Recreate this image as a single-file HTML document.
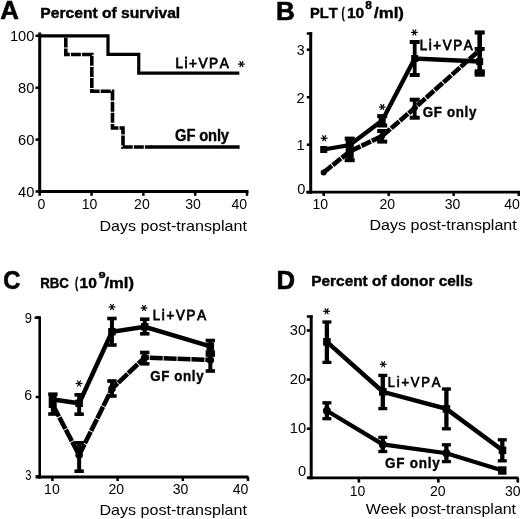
<!DOCTYPE html>
<html><head><meta charset="utf-8"><style>
html,body{margin:0;padding:0;background:#fff;width:520px;height:519px;overflow:hidden}
svg{display:block;will-change:transform;font-family:"Liberation Sans",sans-serif;font-kerning:none}
</style></head><body>
<svg width="520" height="519" viewBox="0 0 520 519" stroke="#000" fill="#000">
<g stroke="none">
</g>
<text transform="translate(0.26 19.40) scale(0.9842 1)" font-size="26.20" font-weight="bold" stroke="#000" stroke-width="0.60">A</text>
<text transform="translate(40.35 17.60) scale(1.0427 1)" font-size="15.00" font-weight="bold" stroke="#000" stroke-width="0.40">Percent of survival</text>
<line x1="39.70" y1="32.50" x2="39.70" y2="193.00" stroke-width="3.00" stroke-linecap="butt"/>
<line x1="38.20" y1="191.50" x2="248.50" y2="191.50" stroke-width="3.00" stroke-linecap="butt"/>
<line x1="35.50" y1="35.80" x2="39.70" y2="35.80" stroke-width="2.50" stroke-linecap="butt"/>
<line x1="35.50" y1="87.70" x2="39.70" y2="87.70" stroke-width="2.50" stroke-linecap="butt"/>
<line x1="35.50" y1="139.60" x2="39.70" y2="139.60" stroke-width="2.50" stroke-linecap="butt"/>
<line x1="35.50" y1="191.50" x2="39.70" y2="191.50" stroke-width="2.50" stroke-linecap="butt"/>
<line x1="39.70" y1="191.50" x2="39.70" y2="195.80" stroke-width="2.50" stroke-linecap="butt"/>
<line x1="91.53" y1="191.50" x2="91.53" y2="195.80" stroke-width="2.50" stroke-linecap="butt"/>
<line x1="143.35" y1="191.50" x2="143.35" y2="195.80" stroke-width="2.50" stroke-linecap="butt"/>
<line x1="195.18" y1="191.50" x2="195.18" y2="195.80" stroke-width="2.50" stroke-linecap="butt"/>
<line x1="247.00" y1="191.50" x2="247.00" y2="195.80" stroke-width="2.50" stroke-linecap="butt"/>
<text transform="translate(9.88 41.30) scale(1.0124 1)" font-size="14.50" stroke="none">100</text>
<text transform="translate(18.05 93.20) scale(1.0124 1)" font-size="14.50" stroke="none">80</text>
<text transform="translate(18.05 145.10) scale(1.0124 1)" font-size="14.50" stroke="none">60</text>
<text transform="translate(18.05 197.00) scale(1.0124 1)" font-size="14.50" stroke="none">40</text>
<text transform="translate(37.59 208.80) scale(0.9700 1)" font-size="14.50" stroke="none">0</text>
<text transform="translate(81.67 208.80) scale(0.9700 1)" font-size="14.50" stroke="none">10</text>
<text transform="translate(134.10 208.80) scale(0.9700 1)" font-size="14.50" stroke="none">20</text>
<text transform="translate(185.18 208.80) scale(0.9700 1)" font-size="14.50" stroke="none">30</text>
<text transform="translate(231.39 208.80) scale(0.9700 1)" font-size="14.50" stroke="none">40</text>
<text transform="translate(99.48 231.30) scale(1.1095 1)" font-size="14.50" stroke="none">Days post-transplant</text>
<polyline points="65.80,37.40 65.80,54.50 91.80,54.50 91.80,91.30 112.50,91.30 112.50,128.00 123.00,128.00 123.00,147.00 151.50,147.00" fill="none" stroke-width="3.60" stroke-linejoin="miter" stroke-dasharray="10 1.1"/>
<line x1="150.80" y1="147.00" x2="239.60" y2="147.00" stroke-width="3.60" stroke-linecap="butt"/>
<polyline points="39.70,35.80 108.00,35.80 108.00,54.40 138.75,54.40 138.75,73.10 239.30,73.10" fill="none" stroke-width="3.20" stroke-linejoin="miter"/>
<text transform="translate(175.48 67.75) scale(0.8800 1)" font-size="15.50" stroke="#000" stroke-width="0.80" letter-spacing="1.698">Li+VPA</text>
<line x1="238.00" y1="64.10" x2="244.80" y2="64.10" stroke-width="1.20" stroke-linecap="butt"/>
<line x1="239.70" y1="61.16" x2="243.10" y2="67.04" stroke-width="1.20" stroke-linecap="butt"/>
<line x1="243.10" y1="61.16" x2="239.70" y2="67.04" stroke-width="1.20" stroke-linecap="butt"/>
<text transform="translate(175.10 141.15) scale(0.9200 1)" font-size="16.00" font-weight="bold" stroke="#000" stroke-width="0.40" letter-spacing="-0.146">GF only</text>
<text transform="translate(276.06 19.50) scale(0.9951 1)" font-size="26.20" font-weight="bold" stroke="#000" stroke-width="0.60">B</text>
<text transform="translate(310.02 17.80) scale(0.9924 1)" font-size="14.80" font-weight="bold" stroke="#000" stroke-width="0.40">PLT</text>
<text transform="translate(341.62 17.80) scale(0.6464 1)" font-size="14.80" font-weight="bold" stroke="#000" stroke-width="0.40">(</text>
<text transform="translate(346.92 18.00) scale(1.0521 1)" font-size="14.80" font-weight="bold" stroke="#000" stroke-width="0.40">10</text>
<text transform="translate(365.22 8.50) scale(1.0577 1)" font-size="11.30" font-weight="bold" stroke="#000" stroke-width="0.40">8</text>
<text transform="translate(374.04 17.80) scale(1.1364 1)" font-size="14.80" font-weight="bold" stroke="#000" stroke-width="0.40">/ml)</text>
<line x1="310.70" y1="32.30" x2="310.70" y2="193.70" stroke-width="3.00" stroke-linecap="butt"/>
<line x1="306.80" y1="33.50" x2="312.20" y2="33.50" stroke-width="2.50" stroke-linecap="butt"/>
<line x1="306.30" y1="192.20" x2="520.00" y2="192.20" stroke-width="2.70" stroke-linecap="butt"/>
<line x1="306.80" y1="192.20" x2="310.70" y2="192.20" stroke-width="2.50" stroke-linecap="butt"/>
<line x1="306.80" y1="144.70" x2="310.70" y2="144.70" stroke-width="2.50" stroke-linecap="butt"/>
<line x1="306.80" y1="97.20" x2="310.70" y2="97.20" stroke-width="2.50" stroke-linecap="butt"/>
<line x1="306.80" y1="49.70" x2="310.70" y2="49.70" stroke-width="2.50" stroke-linecap="butt"/>
<line x1="323.70" y1="192.20" x2="323.70" y2="196.00" stroke-width="2.50" stroke-linecap="butt"/>
<line x1="388.70" y1="192.20" x2="388.70" y2="196.00" stroke-width="2.50" stroke-linecap="butt"/>
<line x1="453.70" y1="192.20" x2="453.70" y2="196.00" stroke-width="2.50" stroke-linecap="butt"/>
<line x1="518.70" y1="192.20" x2="518.70" y2="196.00" stroke-width="2.50" stroke-linecap="butt"/>
<text transform="translate(296.71 55.00) scale(0.9819 1)" font-size="14.50" stroke="none">3</text>
<text transform="translate(296.55 150.00) scale(1.0124 1)" font-size="14.50" stroke="none">1</text>
<text transform="translate(296.57 102.50) scale(1.0124 1)" font-size="14.50" stroke="none">2</text>
<text transform="translate(297.31 194.00) scale(1.0124 1)" font-size="14.50" stroke="none">0</text>
<text transform="translate(312.52 208.80) scale(0.9700 1)" font-size="14.50" stroke="none">10</text>
<text transform="translate(379.40 208.80) scale(0.9700 1)" font-size="14.50" stroke="none">20</text>
<text transform="translate(444.68 208.80) scale(0.9700 1)" font-size="14.50" stroke="none">30</text>
<text transform="translate(504.29 208.80) scale(0.9700 1)" font-size="14.50" stroke="none">40</text>
<text transform="translate(369.48 229.80) scale(1.1080 1)" font-size="14.50" stroke="none">Days post-transplant</text>
<polyline points="323.70,149.50 349.70,145.00 382.20,120.50 414.70,58.50 479.70,61.50" fill="none" stroke-width="4.30" stroke-linejoin="miter"/>
<polyline points="323.70,172.40 349.70,151.50 382.20,136.00 414.70,108.00 479.70,50.00" fill="none" stroke-width="4.60" stroke-linejoin="miter" stroke-dasharray="10.5 1.1"/>
<line x1="349.70" y1="138.60" x2="349.70" y2="160.20" stroke-width="3.60" stroke-linecap="butt"/>
<rect x="344.70" y="136.60" width="10.00" height="4.00" stroke="none"/>
<rect x="344.70" y="158.20" width="10.00" height="4.00" stroke="none"/>
<rect x="345.70" y="140.00" width="8.00" height="18.00" stroke="none"/>
<line x1="382.20" y1="116.10" x2="382.20" y2="125.50" stroke-width="3.60" stroke-linecap="butt"/>
<rect x="377.20" y="114.10" width="10.00" height="4.00" stroke="none"/>
<rect x="377.20" y="123.50" width="10.00" height="4.00" stroke="none"/>
<line x1="382.20" y1="131.00" x2="382.20" y2="141.60" stroke-width="3.60" stroke-linecap="butt"/>
<rect x="377.20" y="129.00" width="10.00" height="4.00" stroke="none"/>
<rect x="377.20" y="139.60" width="10.00" height="4.00" stroke="none"/>
<line x1="414.70" y1="42.00" x2="414.70" y2="75.00" stroke-width="3.80" stroke-linecap="butt"/>
<rect x="409.70" y="40.00" width="10.00" height="4.00" stroke="none"/>
<rect x="409.70" y="73.00" width="10.00" height="4.00" stroke="none"/>
<line x1="414.70" y1="99.70" x2="414.70" y2="117.70" stroke-width="3.80" stroke-linecap="butt"/>
<rect x="409.70" y="97.70" width="10.00" height="4.00" stroke="none"/>
<rect x="409.70" y="115.70" width="10.00" height="4.00" stroke="none"/>
<line x1="479.70" y1="32.50" x2="479.70" y2="73.00" stroke-width="4.60" stroke-linecap="butt"/>
<rect x="474.70" y="30.40" width="10.00" height="4.20" stroke="none"/>
<rect x="474.70" y="70.90" width="10.00" height="4.20" stroke="none"/>
<rect x="474.70" y="47.00" width="10.00" height="3.80" stroke="none"/>
<rect x="474.70" y="69.30" width="10.00" height="7.40" stroke="none"/>
<rect x="320.20" y="146.00" width="7.00" height="7.00" stroke="none"/>
<rect x="346.20" y="141.50" width="7.00" height="7.00" stroke="none"/>
<rect x="378.70" y="117.00" width="7.00" height="7.00" stroke="none"/>
<rect x="411.20" y="55.00" width="7.00" height="7.00" stroke="none"/>
<rect x="476.20" y="58.00" width="7.00" height="7.00" stroke="none"/>
<circle cx="323.70" cy="172.40" r="3.00" stroke="none"/>
<circle cx="349.70" cy="151.50" r="3.00" stroke="none"/>
<circle cx="382.20" cy="136.00" r="3.00" stroke="none"/>
<circle cx="414.70" cy="108.00" r="3.00" stroke="none"/>
<circle cx="479.70" cy="50.00" r="3.00" stroke="none"/>
<line x1="320.80" y1="138.20" x2="327.60" y2="138.20" stroke-width="1.20" stroke-linecap="butt"/>
<line x1="322.50" y1="135.26" x2="325.90" y2="141.14" stroke-width="1.20" stroke-linecap="butt"/>
<line x1="325.90" y1="135.26" x2="322.50" y2="141.14" stroke-width="1.20" stroke-linecap="butt"/>
<line x1="378.90" y1="107.10" x2="385.70" y2="107.10" stroke-width="1.20" stroke-linecap="butt"/>
<line x1="380.60" y1="104.16" x2="384.00" y2="110.04" stroke-width="1.20" stroke-linecap="butt"/>
<line x1="384.00" y1="104.16" x2="380.60" y2="110.04" stroke-width="1.20" stroke-linecap="butt"/>
<line x1="411.00" y1="32.40" x2="417.80" y2="32.40" stroke-width="1.20" stroke-linecap="butt"/>
<line x1="412.70" y1="29.46" x2="416.10" y2="35.34" stroke-width="1.20" stroke-linecap="butt"/>
<line x1="416.10" y1="29.46" x2="412.70" y2="35.34" stroke-width="1.20" stroke-linecap="butt"/>
<text transform="translate(419.71 49.80) scale(0.9200 1)" font-size="14.50" stroke="#000" stroke-width="0.80" letter-spacing="1.773">Li+VPA</text>
<text transform="translate(422.75 116.90) scale(0.9200 1)" font-size="14.50" font-weight="bold" stroke="#000" stroke-width="0.40" letter-spacing="0.718">GF only</text>
<text transform="translate(3.32 289.00) scale(0.9107 1)" font-size="26.20" font-weight="bold" stroke="#000" stroke-width="0.60">C</text>
<text transform="translate(40.21 287.60) scale(0.8967 1)" font-size="14.80" font-weight="bold" stroke="#000" stroke-width="0.40">RBC</text>
<text transform="translate(75.12 287.60) scale(0.6464 1)" font-size="14.80" font-weight="bold" stroke="#000" stroke-width="0.40">(</text>
<text transform="translate(79.62 287.90) scale(1.0521 1)" font-size="14.80" font-weight="bold" stroke="#000" stroke-width="0.40">10</text>
<text transform="translate(98.56 277.60) scale(1.3061 1)" font-size="9.80" font-weight="bold" stroke="#000" stroke-width="0.40">9</text>
<text transform="translate(104.44 287.60) scale(1.1207 1)" font-size="14.80" font-weight="bold" stroke="#000" stroke-width="0.40">/ml)</text>
<line x1="39.70" y1="316.50" x2="39.70" y2="478.60" stroke-width="2.60" stroke-linecap="butt"/>
<line x1="34.60" y1="317.70" x2="41.00" y2="317.70" stroke-width="2.30" stroke-linecap="butt"/>
<line x1="35.70" y1="477.10" x2="248.50" y2="477.10" stroke-width="3.00" stroke-linecap="butt"/>
<line x1="35.70" y1="476.50" x2="39.70" y2="476.50" stroke-width="2.50" stroke-linecap="butt"/>
<line x1="35.70" y1="397.00" x2="39.70" y2="397.00" stroke-width="2.50" stroke-linecap="butt"/>
<line x1="35.70" y1="317.50" x2="39.70" y2="317.50" stroke-width="2.50" stroke-linecap="butt"/>
<line x1="52.40" y1="477.10" x2="52.40" y2="481.00" stroke-width="2.50" stroke-linecap="butt"/>
<line x1="117.60" y1="477.10" x2="117.60" y2="481.00" stroke-width="2.50" stroke-linecap="butt"/>
<line x1="182.80" y1="477.10" x2="182.80" y2="481.00" stroke-width="2.50" stroke-linecap="butt"/>
<line x1="248.00" y1="477.10" x2="248.00" y2="481.00" stroke-width="2.50" stroke-linecap="butt"/>
<text transform="translate(24.79 323.00) scale(0.9084 1)" font-size="14.30" stroke="none">9</text>
<text transform="translate(24.28 400.30) scale(0.9851 1)" font-size="14.30" stroke="none">6</text>
<text transform="translate(25.37 479.60) scale(0.7817 1)" font-size="14.30" stroke="none">3</text>
<text transform="translate(44.07 494.20) scale(0.9700 1)" font-size="14.50" stroke="none">10</text>
<text transform="translate(108.50 494.20) scale(0.9700 1)" font-size="14.50" stroke="none">20</text>
<text transform="translate(172.68 494.20) scale(0.9700 1)" font-size="14.50" stroke="none">30</text>
<text transform="translate(232.79 494.20) scale(0.9700 1)" font-size="14.50" stroke="none">40</text>
<text transform="translate(99.48 515.20) scale(1.1095 1)" font-size="14.50" stroke="none">Days post-transplant</text>
<polyline points="52.90,405.00 79.14,455.00 111.94,388.80 144.74,357.50 210.34,360.00" fill="none" stroke-width="4.60" stroke-linejoin="miter" stroke-dasharray="13 0.9"/>
<polyline points="52.90,399.60 79.14,403.30 111.94,331.70 144.74,326.80 210.34,346.30" fill="none" stroke-width="4.50" stroke-linejoin="miter"/>
<line x1="52.90" y1="394.20" x2="52.90" y2="414.00" stroke-width="4.00" stroke-linecap="butt"/>
<rect x="48.20" y="392.40" width="9.40" height="3.60" stroke="none"/>
<rect x="48.20" y="412.20" width="9.40" height="3.60" stroke="none"/>
<line x1="79.14" y1="394.80" x2="79.14" y2="414.20" stroke-width="4.00" stroke-linecap="butt"/>
<rect x="74.44" y="393.00" width="9.40" height="3.60" stroke="none"/>
<rect x="74.44" y="412.40" width="9.40" height="3.60" stroke="none"/>
<line x1="79.14" y1="442.80" x2="79.14" y2="471.20" stroke-width="4.00" stroke-linecap="butt"/>
<rect x="74.44" y="441.00" width="9.40" height="3.60" stroke="none"/>
<rect x="74.44" y="469.40" width="9.40" height="3.60" stroke="none"/>
<line x1="111.94" y1="318.50" x2="111.94" y2="345.00" stroke-width="4.00" stroke-linecap="butt"/>
<rect x="107.24" y="316.70" width="9.40" height="3.60" stroke="none"/>
<rect x="107.24" y="343.20" width="9.40" height="3.60" stroke="none"/>
<line x1="111.94" y1="381.00" x2="111.94" y2="396.00" stroke-width="4.00" stroke-linecap="butt"/>
<rect x="107.24" y="379.20" width="9.40" height="3.60" stroke="none"/>
<rect x="107.24" y="394.20" width="9.40" height="3.60" stroke="none"/>
<line x1="144.74" y1="319.20" x2="144.74" y2="333.80" stroke-width="4.00" stroke-linecap="butt"/>
<rect x="140.04" y="317.40" width="9.40" height="3.60" stroke="none"/>
<rect x="140.04" y="332.00" width="9.40" height="3.60" stroke="none"/>
<line x1="144.74" y1="352.50" x2="144.74" y2="363.80" stroke-width="4.00" stroke-linecap="butt"/>
<rect x="140.04" y="350.70" width="9.40" height="3.60" stroke="none"/>
<rect x="140.04" y="362.00" width="9.40" height="3.60" stroke="none"/>
<line x1="210.34" y1="340.50" x2="210.34" y2="355.00" stroke-width="4.00" stroke-linecap="butt"/>
<rect x="205.64" y="338.70" width="9.40" height="3.60" stroke="none"/>
<rect x="205.64" y="353.20" width="9.40" height="3.60" stroke="none"/>
<line x1="210.34" y1="352.00" x2="210.34" y2="371.00" stroke-width="4.00" stroke-linecap="butt"/>
<rect x="205.64" y="350.20" width="9.40" height="3.60" stroke="none"/>
<rect x="205.64" y="369.20" width="9.40" height="3.60" stroke="none"/>
<rect x="49.15" y="395.85" width="7.50" height="7.50" stroke="none"/>
<rect x="75.39" y="399.55" width="7.50" height="7.50" stroke="none"/>
<rect x="108.19" y="327.95" width="7.50" height="7.50" stroke="none"/>
<rect x="140.99" y="323.05" width="7.50" height="7.50" stroke="none"/>
<rect x="206.59" y="342.55" width="7.50" height="7.50" stroke="none"/>
<rect x="48.70" y="396.00" width="7.60" height="12.00" stroke="none"/>
<circle cx="52.90" cy="405.00" r="3.80" stroke="none"/>
<circle cx="79.14" cy="455.00" r="3.80" stroke="none"/>
<circle cx="111.94" cy="388.80" r="3.80" stroke="none"/>
<circle cx="144.74" cy="357.50" r="3.80" stroke="none"/>
<circle cx="210.34" cy="360.00" r="3.80" stroke="none"/>
<line x1="75.60" y1="383.50" x2="82.40" y2="383.50" stroke-width="1.20" stroke-linecap="butt"/>
<line x1="77.30" y1="380.56" x2="80.70" y2="386.44" stroke-width="1.20" stroke-linecap="butt"/>
<line x1="80.70" y1="380.56" x2="77.30" y2="386.44" stroke-width="1.20" stroke-linecap="butt"/>
<line x1="108.60" y1="307.00" x2="115.40" y2="307.00" stroke-width="1.20" stroke-linecap="butt"/>
<line x1="110.30" y1="304.06" x2="113.70" y2="309.94" stroke-width="1.20" stroke-linecap="butt"/>
<line x1="113.70" y1="304.06" x2="110.30" y2="309.94" stroke-width="1.20" stroke-linecap="butt"/>
<line x1="140.60" y1="308.00" x2="147.40" y2="308.00" stroke-width="1.20" stroke-linecap="butt"/>
<line x1="142.30" y1="305.06" x2="145.70" y2="310.94" stroke-width="1.20" stroke-linecap="butt"/>
<line x1="145.70" y1="305.06" x2="142.30" y2="310.94" stroke-width="1.20" stroke-linecap="butt"/>
<text transform="translate(152.71 320.00) scale(0.9200 1)" font-size="14.40" stroke="#000" stroke-width="0.80" letter-spacing="1.903">Li+VPA</text>
<text transform="translate(150.15 381.25) scale(0.9200 1)" font-size="14.50" font-weight="bold" stroke="#000" stroke-width="0.40" letter-spacing="0.691">GF only</text>
<text transform="translate(276.38 288.90) scale(0.9833 1)" font-size="26.20" font-weight="bold" stroke="#000" stroke-width="0.60">D</text>
<text transform="translate(311.27 286.30) scale(1.0407 1)" font-size="14.80" font-weight="bold" stroke="#000" stroke-width="0.40">Percent of donor cells</text>
<line x1="311.20" y1="315.50" x2="311.20" y2="479.30" stroke-width="3.00" stroke-linecap="butt"/>
<line x1="306.80" y1="316.50" x2="312.70" y2="316.50" stroke-width="2.50" stroke-linecap="butt"/>
<line x1="307.50" y1="477.80" x2="518.50" y2="477.80" stroke-width="2.70" stroke-linecap="butt"/>
<line x1="306.80" y1="477.80" x2="311.20" y2="477.80" stroke-width="2.50" stroke-linecap="butt"/>
<line x1="306.80" y1="428.70" x2="311.20" y2="428.70" stroke-width="2.50" stroke-linecap="butt"/>
<line x1="306.80" y1="379.60" x2="311.20" y2="379.60" stroke-width="2.50" stroke-linecap="butt"/>
<line x1="306.80" y1="330.50" x2="311.20" y2="330.50" stroke-width="2.50" stroke-linecap="butt"/>
<line x1="358.90" y1="477.80" x2="358.90" y2="482.60" stroke-width="2.60" stroke-linecap="butt"/>
<line x1="438.35" y1="477.80" x2="438.35" y2="482.60" stroke-width="2.60" stroke-linecap="butt"/>
<line x1="517.80" y1="477.80" x2="517.80" y2="482.60" stroke-width="2.60" stroke-linecap="butt"/>
<text transform="translate(289.75 432.70) scale(1.0124 1)" font-size="14.50" stroke="none">10</text>
<text transform="translate(289.75 383.60) scale(1.0124 1)" font-size="14.50" stroke="none">20</text>
<text transform="translate(289.75 334.50) scale(1.0124 1)" font-size="14.50" stroke="none">30</text>
<text transform="translate(298.11 476.00) scale(1.0124 1)" font-size="14.50" stroke="none">0</text>
<text transform="translate(349.67 495.80) scale(0.9700 1)" font-size="14.50" stroke="none">10</text>
<text transform="translate(429.90 495.80) scale(0.9700 1)" font-size="14.50" stroke="none">20</text>
<text transform="translate(504.88 495.80) scale(0.9700 1)" font-size="14.50" stroke="none">30</text>
<text transform="translate(365.63 514.30) scale(1.0984 1)" font-size="14.50" stroke="none">Week post-transplant</text>
<polyline points="326.90,341.90 382.80,391.80 446.40,408.90 502.50,450.30" fill="none" stroke-width="4.50" stroke-linejoin="miter"/>
<polyline points="326.90,410.80 382.80,444.40 446.40,453.20 502.50,470.50" fill="none" stroke-width="4.20" stroke-linejoin="miter"/>
<line x1="326.90" y1="322.00" x2="326.90" y2="362.40" stroke-width="4.30" stroke-linecap="butt"/>
<rect x="322.40" y="320.35" width="9.00" height="3.30" stroke="none"/>
<rect x="322.40" y="360.75" width="9.00" height="3.30" stroke="none"/>
<line x1="326.90" y1="402.80" x2="326.90" y2="418.70" stroke-width="4.30" stroke-linecap="butt"/>
<rect x="322.40" y="401.15" width="9.00" height="3.30" stroke="none"/>
<rect x="322.40" y="417.05" width="9.00" height="3.30" stroke="none"/>
<line x1="382.80" y1="375.40" x2="382.80" y2="408.60" stroke-width="4.30" stroke-linecap="butt"/>
<rect x="378.30" y="373.75" width="9.00" height="3.30" stroke="none"/>
<rect x="378.30" y="406.95" width="9.00" height="3.30" stroke="none"/>
<line x1="382.80" y1="437.40" x2="382.80" y2="451.50" stroke-width="4.30" stroke-linecap="butt"/>
<rect x="378.30" y="435.75" width="9.00" height="3.30" stroke="none"/>
<rect x="378.30" y="449.85" width="9.00" height="3.30" stroke="none"/>
<line x1="446.40" y1="389.00" x2="446.40" y2="428.80" stroke-width="4.30" stroke-linecap="butt"/>
<rect x="441.90" y="387.35" width="9.00" height="3.30" stroke="none"/>
<rect x="441.90" y="427.15" width="9.00" height="3.30" stroke="none"/>
<line x1="446.40" y1="444.80" x2="446.40" y2="461.60" stroke-width="4.30" stroke-linecap="butt"/>
<rect x="441.90" y="443.15" width="9.00" height="3.30" stroke="none"/>
<rect x="441.90" y="459.95" width="9.00" height="3.30" stroke="none"/>
<line x1="502.30" y1="439.80" x2="502.30" y2="460.85" stroke-width="4.30" stroke-linecap="butt"/>
<rect x="497.80" y="438.15" width="9.00" height="3.30" stroke="none"/>
<rect x="497.80" y="459.20" width="9.00" height="3.30" stroke="none"/>
<rect x="323.10" y="338.10" width="7.60" height="7.60" stroke="none"/>
<rect x="379.00" y="388.00" width="7.60" height="7.60" stroke="none"/>
<rect x="442.60" y="405.10" width="7.60" height="7.60" stroke="none"/>
<rect x="498.70" y="446.50" width="7.60" height="7.60" stroke="none"/>
<circle cx="326.90" cy="410.80" r="4.00" stroke="none"/>
<circle cx="382.80" cy="444.40" r="4.00" stroke="none"/>
<circle cx="446.40" cy="453.20" r="4.00" stroke="none"/>
<rect x="498.10" y="466.30" width="8.40" height="8.40" stroke="none"/>
<line x1="323.20" y1="311.30" x2="330.00" y2="311.30" stroke-width="1.20" stroke-linecap="butt"/>
<line x1="324.90" y1="308.36" x2="328.30" y2="314.24" stroke-width="1.20" stroke-linecap="butt"/>
<line x1="328.30" y1="308.36" x2="324.90" y2="314.24" stroke-width="1.20" stroke-linecap="butt"/>
<line x1="379.80" y1="364.30" x2="386.60" y2="364.30" stroke-width="1.20" stroke-linecap="butt"/>
<line x1="381.50" y1="361.36" x2="384.90" y2="367.24" stroke-width="1.20" stroke-linecap="butt"/>
<line x1="384.90" y1="361.36" x2="381.50" y2="367.24" stroke-width="1.20" stroke-linecap="butt"/>
<text transform="translate(387.78 386.65) scale(0.9200 1)" font-size="14.20" stroke="#000" stroke-width="0.70" letter-spacing="1.904">Li+VPA</text>
<text transform="translate(385.05 467.80) scale(0.9200 1)" font-size="14.70" font-weight="bold" stroke="#000" stroke-width="0.40" letter-spacing="0.795">GF only</text>
</svg>
</body></html>
